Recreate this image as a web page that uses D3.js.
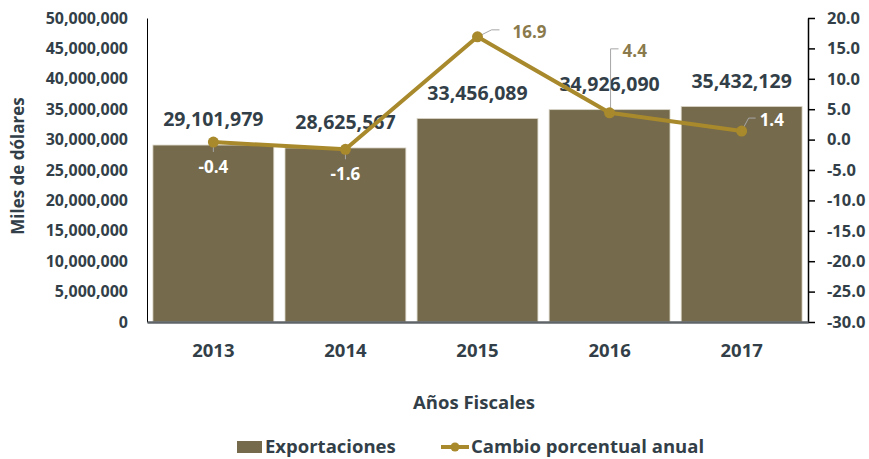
<!DOCTYPE html>
<html><head><meta charset="utf-8">
<script src="https://cdn.jsdelivr.net/npm/d3@7"></script>
<style>
body{margin:0;background:#fff;}
text{font-family:"Open Sans",Lato,sans-serif;font-weight:bold;}
</style></head>
<body><svg id="c" width="869" height="459"></svg>
<script>
const years = ["2013","2014","2015","2016","2017"];
const exportaciones = [29101979, 28625567, 33456089, 34926090, 35432129];
const cambio = [-0.4, -1.6, 16.9, 4.4, 1.4];
const leftTicks = [0,5e6,10e6,15e6,20e6,25e6,30e6,35e6,40e6,45e6,50e6];
const rightTicks = [-30,-25,-20,-15,-10,-5,0,5,10,15,20];

const svg = d3.select("#c");
const L = 147, R = 808, T = 18, B = 322;
const x = d3.scaleBand().domain(years).range([L, R]).paddingInner(0.085).paddingOuter(0.045);
const yL = d3.scaleLinear().domain([0, 50e6]).range([B, T]);
const yR = d3.scaleLinear().domain([-30, 20]).range([B, T]);
const txt = "#333f48", barC = "#756a4b", lineC = "#a8892c", lblC = "#8a7a4c";
const fmt = d3.format(",");
const f1 = v => d3.format(".1f")(v).replace("−","-");

// bars
svg.append("g").selectAll("rect").data(exportaciones).join("rect")
  .attr("x", (d,i)=>x(years[i])).attr("width", x.bandwidth())
  .attr("y", d=>yL(d)).attr("height", d=>B - yL(d))
  .attr("fill", barC).attr("stroke", "#d8d3c5").attr("stroke-width", 0.8);

// left axis
const gl = svg.append("g").attr("transform", `translate(${L},0)`)
  .call(d3.axisLeft(yL).tickValues(leftTicks).tickFormat(fmt).tickSize(0).tickPadding(19));
gl.select(".domain").attr("stroke", "#000").attr("stroke-width", 1);
gl.selectAll("text").attr("fill", txt).style("font-size", "16px");

// right axis
const gr = svg.append("g").attr("transform", `translate(${R},0)`)
  .call(d3.axisRight(yR).tickValues(rightTicks).tickSize(7).tickPadding(12).tickSizeOuter(0));
gr.select(".domain").attr("stroke", "#000").attr("stroke-width", 1.5);
gr.selectAll("line").attr("stroke", "#000").attr("stroke-width", 1.5);
gr.selectAll("text").attr("fill", txt).style("font-size", "16.5px").text(d=>f1(d));

// bottom axis
const gb = svg.append("g").attr("transform", `translate(0,${B})`)
  .call(d3.axisBottom(x).tickSize(0).tickPadding(22));
gb.select(".domain").attr("stroke", "#5f6468").attr("stroke-width", 2.5);
gb.selectAll("text").attr("fill", txt).style("font-size", "18.5px");

// bar labels
svg.append("g").selectAll("text").data(exportaciones).join("text")
  .attr("x", (d,i)=>x(years[i]) + x.bandwidth()/2)
  .attr("y", d=>yL(d) - 19)
  .attr("text-anchor", "middle").attr("fill", txt).style("font-size", "19.5px")
  .text(d=>fmt(d));

// line
const cx = i => x(years[i]) + x.bandwidth()/2;
const line = d3.line().x((d,i)=>cx(i)).y(d=>yR(d));
svg.append("path").datum(cambio).attr("d", line)
  .attr("fill","none").attr("stroke", lineC).attr("stroke-width", 4).attr("stroke-linejoin","round");

// leader lines & labels
const lg = svg.append("g");
cambio.forEach((v,i)=>{
  const px = cx(i), py = yR(v);
  let pts, lx, ly, col, anchor = "start";
  if (i===0 || i===1) { pts = [[px,py],[px,py+10]]; lx = px; ly = py+31; col="#fff"; anchor="middle"; }
  else if (i===2) { pts=[[px,py],[px+14,py-7],[px+22,py-7]]; lx = px+35; ly = py+1; col=lblC; }
  else if (i===3) { pts=[[px+1,py],[px+1,py-64],[px+9,py-64]]; lx = px+13; ly = py-56; col=lblC; }
  else { pts=[[px,py],[px+7,py-13],[px+14,py-13]]; lx = px+18; ly = py-5; col="#fff"; }
  lg.append("path").attr("d", d3.line()(pts)).attr("fill","none").attr("stroke","#a6a6a6").attr("stroke-width",1);
  lg.append("text").attr("x", lx).attr("y", ly).attr("text-anchor", anchor)
    .attr("fill", col).style("font-size","17px").text(f1(v));
});
svg.append("g").selectAll("circle").data(cambio).join("circle")
  .attr("cx",(d,i)=>cx(i)).attr("cy",d=>yR(d)).attr("r",5.5).attr("fill",lineC);

// titles
svg.append("text").attr("transform","translate(24,166) rotate(-90)").attr("text-anchor","middle")
  .attr("fill", txt).style("font-size","17px").text("Miles de dólares");
svg.append("text").attr("x", 474).attr("y", 409).attr("text-anchor","middle")
  .attr("fill", txt).style("font-size","18.5px").text("Años Fiscales");

// legend
const leg = svg.append("g");
leg.append("rect").attr("x",237).attr("y",441).attr("width",25).attr("height",12).attr("fill",barC);
leg.append("text").attr("x",265).attr("y",453).attr("fill",txt).style("font-size","18.5px").text("Exportaciones");
leg.append("line").attr("x1",441).attr("x2",469).attr("y1",447).attr("y2",447).attr("stroke",lineC).attr("stroke-width",4);
leg.append("circle").attr("cx",455).attr("cy",447).attr("r",4.5).attr("fill",lineC);
leg.append("text").attr("x",471).attr("y",453).attr("fill",txt).style("font-size","18.5px").text("Cambio porcentual anual");
</script></body></html>
